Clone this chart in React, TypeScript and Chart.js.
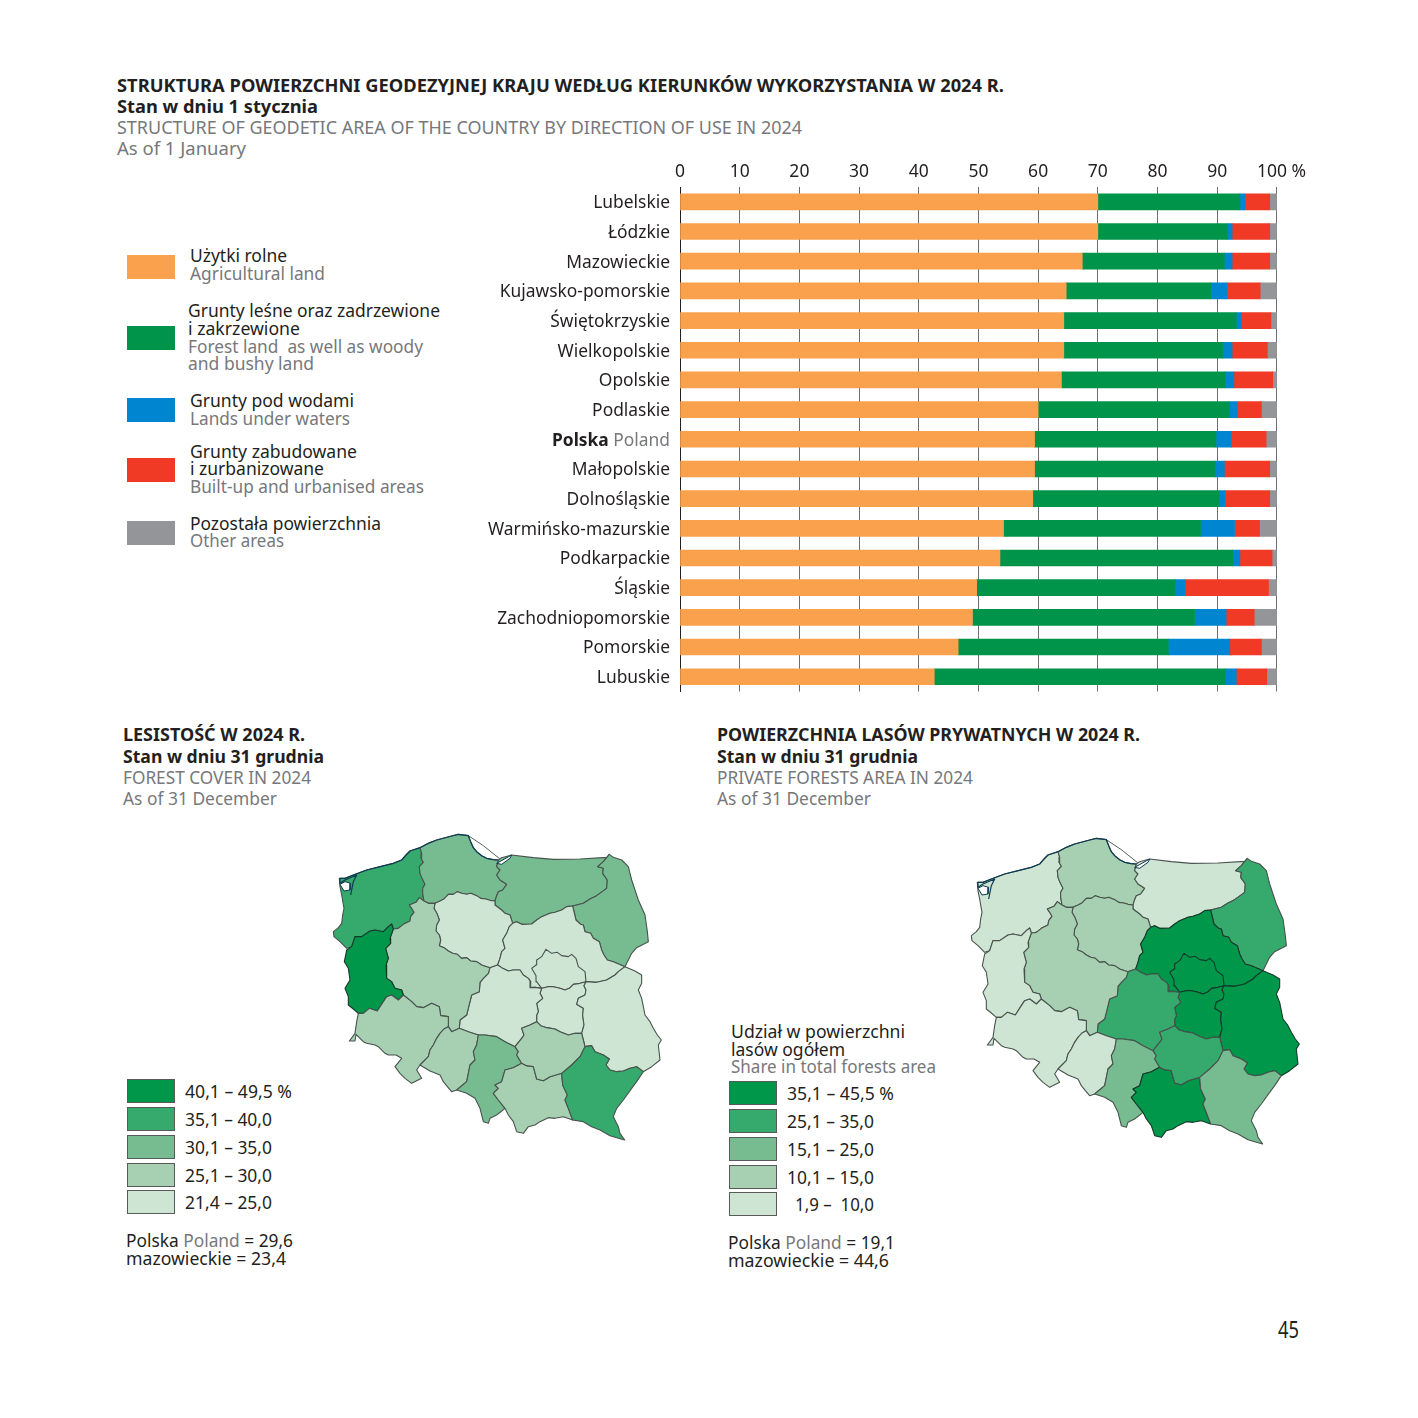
import React, { useEffect, useLayoutEffect, useRef } from "react";
import { Chart, registerables } from "chart.js";

Chart.register(...registerables);

const FONT = "'Noto Sans', sans-serif";
const DARK = "#231f20";
const GREY = "#77787b";

// ---------- stacked bar data ----------
const regions = ["Lubelskie","Łódzkie","Mazowieckie","Kujawsko-pomorskie","Świętokrzyskie","Wielkopolskie","Opolskie","Podlaskie","Polska Poland","Małopolskie","Dolnośląskie","Warmińsko-mazurskie","Podkarpackie","Śląskie","Zachodniopomorskie","Pomorskie","Lubuskie"];
const agricultural = [70.0,70.0,67.4,64.7,64.3,64.3,63.9,60.0,59.4,59.4,59.1,54.2,53.6,49.7,49.0,46.6,42.6];
const forest = [23.8,21.7,23.8,24.2,28.9,26.6,27.5,32.0,30.4,30.3,31.2,33.0,39.0,33.3,37.2,35.2,48.8];
const water = [0.8,0.8,1.3,2.7,0.8,1.6,1.4,1.3,2.6,1.5,1.0,5.7,1.2,1.6,5.3,10.3,1.8];
const builtUp = [4.2,6.3,6.3,5.6,5.0,5.9,6.5,4.1,5.8,7.6,7.5,4.2,5.4,14.0,4.7,5.3,5.1];
const other = [1.2,1.2,1.2,2.8,1.0,1.6,0.7,2.6,1.8,1.2,1.2,2.9,0.8,1.4,3.8,2.6,1.7];
const seriesNames = ["Użytki rolne","Grunty leśne oraz zadrzewione i zakrzewione","Grunty pod wodami","Grunty zabudowane i zurbanizowane","Pozostała powierzchnia"];
const seriesColors = ["#f9a14c","#00944a","#0086d1","#f03a26","#939598"];

// ---------- choropleth legend ----------
const classColors = ["#cfe5d3","#a6d0b1","#76bc90","#36a96d","#00974a"];
const coverLabels = ["40,1 – 49,5 %","35,1 – 40,0","30,1 – 35,0","25,1 – 30,0","21,4 – 25,0"];
const privateLabels = ["35,1 – 45,5 %","25,1 – 35,0","15,1 – 25,0","10,1 – 15,0","1,9 –  10,0"];

// ---------- map boundaries (map units) ----------
type P = number[];
const coastZach: P[] = [[60,160],[75,160],[100,150],[140,135],[180,125],[220,115],[245,105],[258,90],[270,78],[300,68]];
const coastPom: P[] = [[300,68],[325,55],[350,45],[395,33],[415,28],[445,32],[452,50],[460,68],[470,80],[485,92],[500,100],[520,104],[535,105]];
const coastWarm: P[] = [[535,105],[545,98],[575,90],[640,98],[700,103],[780,102],[860,97],[868,88]];
const zachWest: P[] = [[95,365],[80,370],[60,350],[42,335],[40,320],[55,308],[65,295],[68,270],[72,250],[65,210],[60,185],[58,160],[60,160]];
const pomZach: P[] = [[300,68],[305,85],[303,100],[310,112],[298,125],[300,145],[306,160],[315,178],[308,190],[308,205],[312,228]];
const zachWlkp: P[] = [[312,228],[298,218],[288,232],[268,240],[275,250],[282,262],[272,275],[270,288],[250,298],[235,310],[220,312]];
const pomWlkp: P[] = [[312,228],[325,235],[345,235]];
const pomKuj: P[] = [[345,235],[360,228],[372,222],[385,208],[400,208],[412,200],[425,205],[440,208],[452,205],[470,212],[482,220],[497,222],[510,226],[525,228]];
const pomWarm: P[] = [[535,105],[530,125],[540,135],[530,150],[540,165],[560,178],[548,195],[535,200],[530,212],[525,228]];
const warmKuj: P[] = [[525,228],[525,240],[545,255],[555,265],[570,270],[578,295]];
const warmMaz: P[] = [[578,295],[590,290],[605,298],[635,297],[650,285],[665,275],[690,265],[705,262],[725,255],[740,245],[758,243]];
const warmPodl: P[] = [[758,243],[790,235],[810,222],[830,212],[860,190],[862,165],[848,145],[850,130],[833,125],[850,110],[868,88]];
const podlEast: P[] = [[868,88],[880,97],[905,105],[925,125],[935,165],[955,225],[975,270],[982,320],[985,350],[950,368],[935,385],[915,425]];
const podlMaz: P[] = [[758,243],[768,285],[782,298],[790,300],[795,320],[812,325],[820,340],[838,350],[845,375],[852,390],[862,405],[880,410],[915,425]];
const kujMaz: P[] = [[578,295],[568,305],[560,325],[548,345],[555,370],[545,380],[540,400],[533,420]];
const kujWlkp: P[] = [[345,235],[342,250],[352,268],[358,285],[350,300],[348,318],[358,330],[362,345],[358,362],[372,368],[385,378],[398,385],[412,388],[425,400],[440,398],[452,408],[470,410],[485,420],[500,425],[510,428]];
const kujLodz: P[] = [[510,428],[533,420]];
const lodzMaz: P[] = [[533,420],[548,430],[565,438],[580,435],[600,435],[610,450],[625,460],[632,470],[630,488],[645,487],[665,490]];
const ringSouth: P[] = [[665,490],[685,485],[700,485],[720,490],[735,495],[748,490],[760,478],[780,475],[798,470]];
const ringNorth: P[] = [[665,490],[650,470],[648,452],[635,430],[648,420],[650,405],[665,395],[678,373],[695,385],[712,382],[725,392],[745,395],[755,388],[768,400],[775,425],[795,440],[798,470]];
const mazNLub: P[] = [[798,470],[830,472],[860,465],[885,450],[895,440],[915,425]];
const mazSLub: P[] = [[798,470],[792,482],[798,495],[795,510],[775,520],[770,538],[790,550],[788,570],[792,600],[785,625]];
const lodzMazS: P[] = [[665,490],[660,505],[668,520],[650,535],[655,560],[650,570],[650,590]];
const mazSSwie: P[] = [[650,590],[662,602],[680,608],[705,612],[720,620],[745,630],[765,625],[785,625]];
const swieLub: P[] = [[785,625],[790,645],[795,665]];
const lubEast: P[] = [[915,425],[945,438],[965,450],[965,475],[955,495],[965,520],[970,545],[975,570],[990,590],[1000,610],[1012,630],[1024,645],[1015,660],[1020,705],[995,725],[970,740]];
const lubPodk: P[] = [[795,665],[815,662],[825,680],[850,690],[868,702],[858,720],[870,735],[890,740],[910,738],[930,730],[950,725],[970,740]];
const podkS: P[] = [[970,740],[950,770],[935,790],[910,825],[890,850],[880,875],[895,905],[900,925],[914,945],[890,938],[870,932],[840,915],[815,905],[790,890],[758,885]];
const podkMalop: P[] = [[758,885],[745,850],[735,825],[742,810],[728,780],[725,745]];
const podkSwie: P[] = [[725,745],[755,720],[780,695],[795,665]];
const malopSwie: P[] = [[725,745],[690,755],[670,767],[650,762],[640,725],[620,722],[605,715]];
const swieSl: P[] = [[605,715],[590,690],[595,680],[585,665]];
const swieLodz: P[] = [[585,665],[605,640],[612,630],[605,610],[630,600],[650,590]];
const lodzSl: P[] = [[475,630],[495,630],[530,635],[555,650],[585,665]];
const lodzWlkp: P[] = [[510,428],[505,445],[490,460],[480,472],[478,500],[455,510],[450,530],[445,550],[440,570],[420,585],[418,610]];
const lodzOp: P[] = [[418,610],[445,620],[475,630]];
const wlkpOp: P[] = [[418,610],[395,620],[385,605]];
const wlkpDoln: P[] = [[385,605],[385,575],[362,572],[358,545],[335,535],[310,548],[290,545],[275,530],[250,510]];
const wlkpLub: P[] = [[220,312],[210,340],[212,355],[197,370],[205,400],[198,420],[200,460],[215,470],[225,490],[245,495],[250,510]];
const lubDoln: P[] = [[250,510],[235,525],[215,510],[200,515],[190,530],[172,558],[148,550],[130,565],[115,565]];
const lubWest: P[] = [[115,565],[100,552],[85,540],[85,515],[75,490],[90,465],[85,430],[73,410],[80,375],[95,365]];
const lubZach: P[] = [[220,312],[215,297],[205,305],[190,320],[165,315],[150,318],[125,335],[105,335],[95,365]];
const dolnS: P[] = [[300,720],[290,735],[305,760],[275,775],[255,760],[240,745],[225,725],[245,700],[228,690],[205,690],[195,685],[175,665],[165,660],[140,655],[130,650],[108,628],[105,648],[88,648],[105,625],[110,590],[115,565]];
const dolnOp: P[] = [[300,720],[325,695],[330,675],[340,660],[350,640],[360,625],[372,612],[385,605]];
const opS: P[] = [[300,720],[330,738],[360,750],[370,770],[382,785],[395,800],[410,795]];
const opSl: P[] = [[410,795],[440,770],[445,745],[450,720],[465,705],[460,680],[470,660],[475,630]];
const slS: P[] = [[410,795],[440,805],[465,820],[480,850],[490,890],[505,895],[510,880],[530,870],[555,850]];
const slMalop: P[] = [[555,850],[535,825],[520,805],[535,790],[525,780],[545,770],[555,735],[580,728],[605,715]];
const malopS: P[] = [[555,850],[565,870],[580,890],[590,920],[610,925],[625,905],[645,900],[660,890],[685,878],[705,880],[730,875],[758,885]];
const szczecinLagoon: P[] = [[60,178],[75,170],[92,175],[90,195],[72,198],[60,178]];
const vistulaLagoon: P[] = [[530,115],[575,90],[570,100],[545,118],[530,115]];
const helSpit: P[] = [[445,32],[490,62],[540,102]];
const wolinCoast: P[] = [[60,160],[60,175],[75,165],[110,150],[100,170],[92,210]];

const rev = (a: P[]) => [...a].reverse();
const ring = (...arcs: P[][]) => arcs.flat();

const mapUnits = [
  { name: "zachodniopomorskie", shape: ring(coastZach, pomZach, zachWlkp, lubZach, zachWest) },
  { name: "pomorskie", shape: ring(coastPom, pomWarm, rev(pomKuj), rev(pomWlkp), rev(pomZach)) },
  { name: "warmińsko-mazurskie", shape: ring(coastWarm, rev(warmPodl), rev(warmMaz), rev(warmKuj), rev(pomWarm)) },
  { name: "podlaskie", shape: ring(podlEast, rev(podlMaz), warmPodl) },
  { name: "kujawsko-pomorskie", shape: ring(pomKuj, warmKuj, kujMaz, rev(kujLodz), rev(kujWlkp)) },
  { name: "mazowiecki północny", shape: ring(warmMaz, podlMaz, rev(mazNLub), rev(ringSouth), rev(lodzMaz), rev(kujMaz)) },
  { name: "warszawski", shape: ring(ringNorth, rev(ringSouth)) },
  { name: "mazowiecki południowy", shape: ring(ringSouth, mazSLub, rev(mazSSwie), rev(lodzMazS)) },
  { name: "lubelskie", shape: ring(mazNLub, lubEast, rev(lubPodk), rev(swieLub), rev(mazSLub)) },
  { name: "łódzkie", shape: ring(kujLodz, lodzMaz, lodzMazS, rev(swieLodz), rev(lodzSl), rev(lodzOp), rev(lodzWlkp)) },
  { name: "wielkopolskie", shape: ring(pomWlkp, kujWlkp, lodzWlkp, wlkpOp, wlkpDoln, rev(wlkpLub), rev(zachWlkp)) },
  { name: "lubuskie", shape: ring(wlkpLub, lubDoln, lubWest, rev(lubZach)) },
  { name: "dolnośląskie", shape: ring(rev(wlkpDoln), rev(dolnOp), dolnS, rev(lubDoln)) },
  { name: "opolskie", shape: ring(rev(wlkpOp), lodzOp, rev(opSl), rev(opS), dolnOp) },
  { name: "śląskie", shape: ring(lodzSl, rev(swieSl), rev(slMalop), rev(slS), opSl) },
  { name: "małopolskie", shape: ring(slMalop, rev(malopSwie), rev(podkMalop), rev(malopS)) },
  { name: "świętokrzyskie", shape: ring(swieLodz, mazSSwie, swieLub, rev(podkSwie), malopSwie, swieSl) },
  { name: "podkarpackie", shape: ring(lubPodk, podkS, podkMalop, podkSwie) },
];
// legend class of each map unit (0 = lightest), same order as mapUnits
const coverClass = [3,2,2,2,0,0,0,0,0,0,1,4,1,1,2,1,1,3];
const privateClass = [0,1,0,3,1,4,4,4,4,3,1,0,0,0,2,4,3,2];

function BarChart() {
  const ref = useRef<HTMLCanvasElement>(null);
  useEffect(() => {
    const polskaIdx = regions.indexOf("Polska Poland");
    const polskaPlugin = {
      id: "polska",
      afterDraw(c: any) {
        const ctx = c.ctx;
        const y = c.scales.y.getPixelForTick(polskaIdx) + 1.5;
        ctx.save();
        ctx.textBaseline = "middle";
        ctx.textAlign = "right";
        ctx.font = `400 17.4px ${FONT}`;
        ctx.fillStyle = GREY;
        const right = c.scales.y.right - 10;
        ctx.fillText("Poland", right, y);
        const w = ctx.measureText("Poland ").width;
        ctx.font = `700 17.4px ${FONT}`;
        ctx.fillStyle = DARK;
        ctx.fillText("Polska", right - w, y);
        ctx.restore();
      },
    };
    const chart = new Chart(ref.current!, {
      type: "bar",
      data: {
        labels: regions,
        datasets: [agricultural, forest, water, builtUp, other].map((data, i) => ({
          label: seriesNames[i], data, backgroundColor: seriesColors[i], borderWidth: 0, barThickness: 16,
        })),
      },
      options: {
        indexAxis: "y", animation: false, responsive: false,
        layout: { autoPadding: false, padding: { left: 0, right: 33, top: 0, bottom: 8 } },
        plugins: { legend: { display: false }, tooltip: { enabled: false } },
        scales: {
          x: {
            position: "top", stacked: true, min: 0, max: 100,
            afterFit: (s: any) => { s.height = 32; },
            border: { display: false },
            grid: { color: "#6d6e71", lineWidth: 1, drawTicks: false },
            ticks: {
              stepSize: 10, autoSkip: false, maxRotation: 0, padding: 4, color: DARK, font: { family: FONT, size: 17.5 },
              callback: (v: any) => (v === 100 ? "\u00a0\u00a0100 %" : String(v)),
            },
          },
          y: {
            stacked: true,
            afterFit: (s: any) => { s.width = 200; },
            border: { display: true, color: DARK, width: 1 },
            grid: { display: false, drawTicks: false },
            ticks: {
              autoSkip: false, padding: 10, labelOffset: 1.5, font: { family: FONT, size: 17.4 },
              color: (ctx: any) => (ctx.index === polskaIdx ? "rgba(0,0,0,0)" : DARK),
            },
          },
        },
      } as any,
      plugins: [polskaPlugin],
    });
    return () => chart.destroy();
  }, []);
  return <canvas ref={ref} width={830} height={557} style={{ position: "absolute", left: 480, top: 155, width: 830, height: 557 }} />;
}

function MapChart({ classes, left, top, label }: { classes: number[]; left: number; top: number; label: string }) {
  const ref = useRef<HTMLCanvasElement>(null);
  useEffect(() => {
    const toXY = (a: P[]) => a.map(([x, y]) => ({ x, y }));
    const line = { showLine: true, pointRadius: 0, tension: 0, borderJoinStyle: "round" as const };
    // Chart.js paints the first dataset last, so the list is reversed to paint in list order
    const painted = [
      ...mapUnits.map((u, i) => ({
        ...line, label: u.name, data: toXY([...u.shape, u.shape[0]]),
        backgroundColor: classColors[classes[i]], borderColor: classes[i] === 4 ? "#14392a" : "#48534e",
        borderWidth: 1.1, fill: "shape",
      })),
      { ...line, label: "Zalew Szczeciński", data: toXY(szczecinLagoon), backgroundColor: "#ffffff", borderColor: "#0d3b52", borderWidth: 1, fill: "shape" },
      { ...line, label: "Zalew Wiślany", data: toXY(vistulaLagoon), backgroundColor: "#ffffff", borderColor: "#0d3b52", borderWidth: 1, fill: "shape" },
      { ...line, label: "Mierzeja Helska", data: toXY(helSpit), borderColor: "#55605c", borderWidth: 1, fill: false },
      { ...line, label: "Wolin", data: toXY(wolinCoast), borderColor: "#0d3b52", borderWidth: 1.2, fill: false },
      { ...line, label: "wybrzeże zach.", data: toXY(coastZach), borderColor: "#0d3b52", borderWidth: 1.2, fill: false },
      { ...line, label: "wybrzeże pom.", data: toXY(coastPom), borderColor: "#0d3b52", borderWidth: 1.2, fill: false },
    ];
    const chart = new Chart(ref.current!, {
      type: "scatter",
      data: { datasets: painted.reverse() },
      options: {
        animation: false, responsive: false,
        layout: { autoPadding: false, padding: 0 },
        plugins: { legend: { display: false }, tooltip: { enabled: false } },
        scales: {
          x: { type: "linear", display: false, min: 0, max: 1050 },
          y: { type: "linear", display: false, min: 0, max: 975, reverse: true },
        },
      } as any,
    });
    return () => chart.destroy();
  }, []);
  return <canvas ref={ref} aria-label={label} width={350} height={325} style={{ position: "absolute", left, top, width: 350, height: 325 }} />;
}

function T({ x, r, y, size = 17.4, bold, color = DARK, children }: { x: number; r: number; y: number; size?: number; bold?: boolean; color?: string; children: React.ReactNode }) {
  const ref = useRef<HTMLDivElement>(null);
  useLayoutEffect(() => {
    const el = ref.current!;
    el.style.transform = "translateY(-50%)";
    const w = el.getBoundingClientRect().width;
    el.style.transform = `translateY(-50%) scaleX(${(r - x) / w})`;
  }, []);
  return (
    <div ref={ref} style={{ position: "absolute", left: x, top: y, whiteSpace: "pre", fontFamily: FONT, fontSize: size, lineHeight: 1, fontWeight: bold ? 700 : 400, color, transformOrigin: "left center" }}>
      {children}
    </div>
  );
}

function Swatch({ x, y, h = 24, color, border }: { x: number; y: number; h?: number; color: string; border?: boolean }) {
  return <div style={{ position: "absolute", left: x, top: y, width: 48, height: h, boxSizing: "border-box", background: color, border: border ? "1px solid #58595b" : "none" }} />;
}

export default function App() {
  const cls = [...classColors].reverse();
  const coverY = [1092, 1120, 1148, 1176, 1203];
  const coverR = [292, 272, 272, 272, 272];
  const privY = [1094, 1122, 1150, 1178, 1205];
  const privR = [894, 874, 874, 874, 874];
  return (
    <div style={{ position: "absolute", left: 0, top: 0, width: 1418, height: 1418, background: "#fff", overflow: "hidden" }}>
      <T x={117} r={1004} y={86} bold>STRUKTURA POWIERZCHNI GEODEZYJNEJ KRAJU WEDŁUG KIERUNKÓW WYKORZYSTANIA W 2024 R.</T>
      <T x={117} r={318} y={107} bold>Stan w dniu 1 stycznia</T>
      <T x={117} r={802} y={128} color={GREY}>STRUCTURE OF GEODETIC AREA OF THE COUNTRY BY DIRECTION OF USE IN 2024</T>
      <T x={117} r={246} y={149} color={GREY}>As of 1 January</T>

      {[255, 326, 398, 458, 521].map((y, i) => <Swatch key={y} x={127} y={y} color={seriesColors[i]} />)}
      <T x={190} r={287} y={256}>Użytki rolne</T>
      <T x={190} r={325} y={274} color={GREY}>Agricultural land</T>
      <T x={188} r={440} y={311}>Grunty leśne oraz zadrzewione</T>
      <T x={188} r={300} y={329}>i zakrzewione</T>
      <T x={188} r={423} y={347} color={GREY}>Forest land  as well as woody</T>
      <T x={188} r={314} y={364} color={GREY}>and bushy land</T>
      <T x={190} r={354} y={401}>Grunty pod wodami</T>
      <T x={190} r={350} y={419} color={GREY}>Lands under waters</T>
      <T x={190} r={357} y={452}>Grunty zabudowane</T>
      <T x={190} r={324} y={469}>i zurbanizowane</T>
      <T x={190} r={424} y={487} color={GREY}>Built-up and urbanised areas</T>
      <T x={190} r={381} y={524}>Pozostała powierzchnia</T>
      <T x={190} r={284} y={541} color={GREY}>Other areas</T>

      <BarChart />

      <T x={123} r={305} y={735} bold>LESISTOŚĆ W 2024 R.</T>
      <T x={123} r={324} y={757} bold>Stan w dniu 31 grudnia</T>
      <T x={123} r={311} y={778} color={GREY}>FOREST COVER IN 2024</T>
      <T x={123} r={277} y={799} color={GREY}>As of 31 December</T>

      <T x={717} r={1140} y={735} bold>POWIERZCHNIA LASÓW PRYWATNYCH W 2024 R.</T>
      <T x={717} r={918} y={757} bold>Stan w dniu 31 grudnia</T>
      <T x={717} r={973} y={778} color={GREY}>PRIVATE FORESTS AREA IN 2024</T>
      <T x={717} r={871} y={799} color={GREY}>As of 31 December</T>

      <MapChart classes={coverClass} left={320} top={825} label="Lesistość" />
      <MapChart classes={privateClass} left={958} top={829} label="Powierzchnia lasów prywatnych" />

      {coverLabels.map((l, i) => (
        <React.Fragment key={l}>
          <Swatch x={127} y={coverY[i] - 13} color={cls[i]} border />
          <T x={185} r={coverR[i]} y={coverY[i]}>{l}</T>
        </React.Fragment>
      ))}
      <T x={126} r={293} y={1241}>Polska <span style={{ color: GREY }}>Poland</span> = 29,6</T>
      <T x={126} r={286} y={1259}>mazowieckie = 23,4</T>

      <T x={731} r={905} y={1032}>Udział w powierzchni</T>
      <T x={731} r={845} y={1050}>lasów ogółem</T>
      <T x={731} r={936} y={1067} color={GREY}>Share in total forests area</T>
      {privateLabels.map((l, i) => (
        <React.Fragment key={l}>
          <Swatch x={729} y={privY[i] - 13} color={cls[i]} border />
          <T x={i === 4 ? 795 : 787} r={privR[i]} y={privY[i]}>{l}</T>
        </React.Fragment>
      ))}
      <T x={728} r={895} y={1243}>Polska <span style={{ color: GREY }}>Poland</span> = 19,1</T>
      <T x={728} r={889} y={1261}>mazowieckie = 44,6</T>

      <T x={1278} r={1299} y={1329} size={24}>45</T>
    </div>
  );
}
